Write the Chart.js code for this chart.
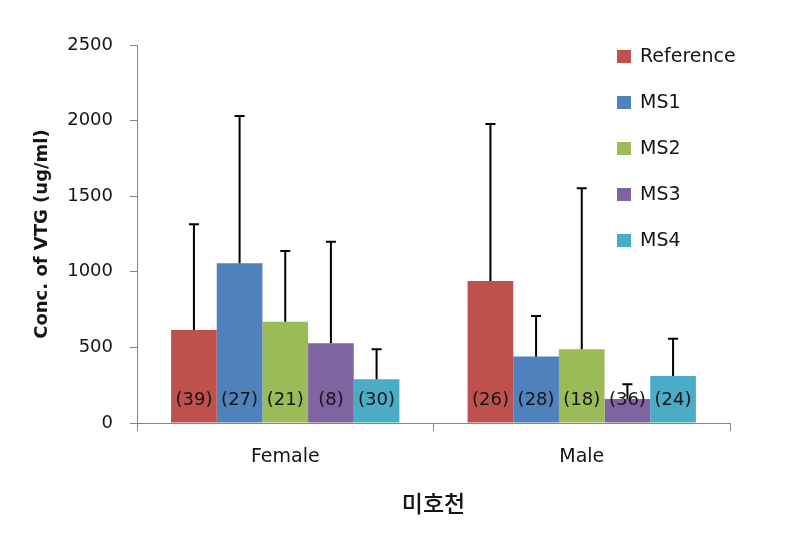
<!DOCTYPE html>
<html>
<head>
<meta charset="utf-8">
<script src="https://cdn.jsdelivr.net/npm/chart.js@4.4.1/dist/chart.umd.min.js"></script>
<style>
  body { margin: 0; background: #fff; }
</style>
</head>
<body>
<canvas id="vtgChart" width="785" height="537"></canvas>
<script>
const categories = ['Female', 'Male'];
const seriesNames = ['Reference', 'MS1', 'MS2', 'MS3', 'MS4'];
const seriesColors = ['#C0504D', '#4F81BD', '#9BBB59', '#8064A2', '#4BACC6'];

// mean per group (Female, Male)
const reference = [615, 939];
const ms1 = [1056, 439];
const ms2 = [670, 487];
const ms3 = [527, 159];
const ms4 = [289, 311];

// upper error (SD)
const referenceSd = [699, 1038];
const ms1Sd = [974, 269];
const ms2Sd = [467, 1065];
const ms3Sd = [672, 97];
const ms4Sd = [198, 246];

// sample sizes
const referenceN = [39, 26];
const ms1N = [27, 28];
const ms2N = [21, 18];
const ms3N = [8, 36];
const ms4N = [30, 24];

const yTicks = [0, 500, 1000, 1500, 2000, 2500];

const means = [reference, ms1, ms2, ms3, ms4];
const sds = [referenceSd, ms1Sd, ms2Sd, ms3Sd, ms4Sd];
const counts = [referenceN, ms1N, ms2N, ms3N, ms4N];

const FONT = "'DejaVu Sans', 'Noto Sans CJK KR', sans-serif";
const KFONT = "'Noto Sans CJK KR', sans-serif";
const TEXT = '#151515';
const AXIS = '#868686';

const errorBars = {
  id: 'errorBars',
  afterDatasetsDraw(chart) {
    const ctx = chart.ctx;
    const y = chart.scales.y;
    ctx.save();
    chart.data.datasets.forEach((ds, i) => {
      const meta = chart.getDatasetMeta(i);
      meta.data.forEach((bar, j) => {
        const top = y.getPixelForValue(ds.data[j] + sds[i][j]);
        ctx.strokeStyle = '#000';
        ctx.lineWidth = 2;
        ctx.beginPath();
        ctx.moveTo(bar.x, bar.y);
        ctx.lineTo(bar.x, top);
        ctx.moveTo(bar.x - 5, top);
        ctx.lineTo(bar.x + 5, top);
        ctx.stroke();
      });
    });
    // counts in brackets
    ctx.font = '18px ' + FONT;
    ctx.fillStyle = TEXT;
    ctx.textAlign = 'center';
    ctx.textBaseline = 'middle';
    chart.data.datasets.forEach((ds, i) => {
      const meta = chart.getDatasetMeta(i);
      meta.data.forEach((bar, j) => {
        ctx.fillText('(' + counts[i][j] + ')', bar.x, y.bottom - 23);
      });
    });
    ctx.restore();
  }
};

const sideLegend = {
  id: 'sideLegend',
  afterDraw(chart) {
    const ctx = chart.ctx;
    const x0 = 617, y0 = 57, gap = 46;
    ctx.save();
    ctx.font = '19px ' + FONT;
    ctx.textBaseline = 'middle';
    ctx.textAlign = 'left';
    chart.data.datasets.forEach((ds, i) => {
      const cy = y0 + i * gap;
      ctx.fillStyle = ds.backgroundColor;
      ctx.fillRect(x0, cy - 7, 14, 13);
      ctx.fillStyle = TEXT;
      ctx.fillText(ds.label, x0 + 23, cy);
    });
    ctx.restore();
  }
};

new Chart(document.getElementById('vtgChart').getContext('2d'), {
  type: 'bar',
  data: {
    labels: categories,
    datasets: seriesNames.map((name, i) => ({
      label: name,
      data: means[i],
      backgroundColor: seriesColors[i],
      barPercentage: 1,
      categoryPercentage: 0.77
    }))
  },
  options: {
    responsive: false,
    animation: false,
    layout: { padding: { top: 45, right: 55, left: 0, bottom: 0 } },
    plugins: { legend: { display: false }, tooltip: { enabled: false } },
    scales: {
      x: {
        grid: { drawOnChartArea: false, drawTicks: true, tickLength: 8, color: AXIS },
        border: { color: AXIS },
        ticks: { padding: 15, color: TEXT, font: { family: FONT, size: 19 } },
        title: { display: true, text: '미호천', color: TEXT, font: { family: KFONT, size: 23, weight: '500' }, padding: { top: 0, bottom: 20 } },
        afterFit(s) { s.height = 114; }
      },
      y: {
        min: 0,
        max: 2500,
        afterBuildTicks(s) { s.ticks = yTicks.map(v => ({ value: v })); },
        grid: { drawOnChartArea: false, drawTicks: true, tickLength: 7, color: AXIS },
        border: { color: AXIS },
        ticks: { padding: 17, color: TEXT, font: { family: FONT, size: 18 }, callback: v => String(v) },
        title: { display: true, text: 'Conc. of VTG (ug/ml)', color: TEXT, font: { family: FONT, size: 18, weight: 'bold' }, padding: { top: 32, bottom: 0 } },
        afterFit(s) { s.width = 137; }
      }
    }
  },
  plugins: [errorBars, sideLegend]
});
</script>
</body>
</html>
